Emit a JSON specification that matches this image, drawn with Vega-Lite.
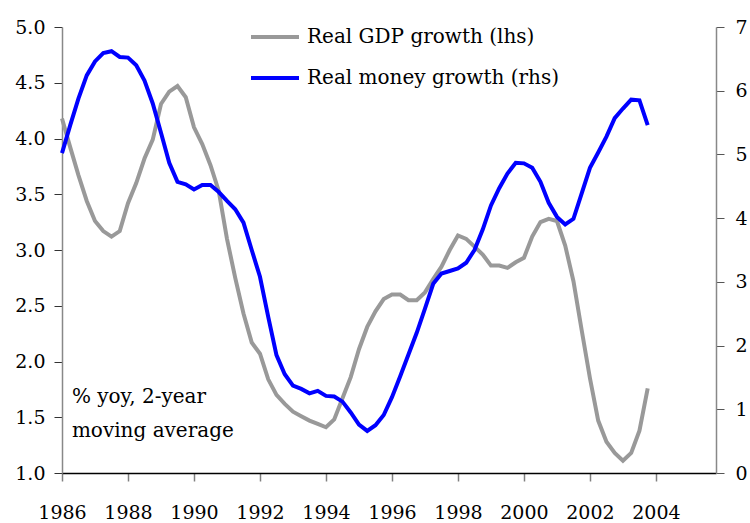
{
  "$schema": "https://vega.github.io/schema/vega-lite/v6.json",
  "width": 654,
  "height": 446,
  "autosize": {"type": "none"},
  "padding": {"left": 62, "top": 27, "right": 34, "bottom": 50},
  "config": {
    "view": {"stroke": null},
    "font": "DejaVu Serif",
    "axis": {"grid": false, "labelFont": "DejaVu Serif", "labelFontSize": 19, "labelColor": "#000000", "title": null, "tickSize": 8},
    "legend": {"labelFont": "DejaVu Serif"}
  },
  "data": {
    "values": [
      {"year": 1986.00, "gdp": 4.18, "money": 5.02},
      {"year": 1986.25, "gdp": 3.92, "money": 5.46},
      {"year": 1986.50, "gdp": 3.67, "money": 5.88},
      {"year": 1986.75, "gdp": 3.44, "money": 6.24},
      {"year": 1987.00, "gdp": 3.26, "money": 6.46},
      {"year": 1987.25, "gdp": 3.17, "money": 6.59},
      {"year": 1987.50, "gdp": 3.12, "money": 6.62},
      {"year": 1987.75, "gdp": 3.17, "money": 6.53},
      {"year": 1988.00, "gdp": 3.42, "money": 6.52},
      {"year": 1988.25, "gdp": 3.60, "money": 6.40},
      {"year": 1988.50, "gdp": 3.82, "money": 6.16},
      {"year": 1988.75, "gdp": 3.99, "money": 5.80},
      {"year": 1989.00, "gdp": 4.31, "money": 5.34},
      {"year": 1989.25, "gdp": 4.42, "money": 4.87},
      {"year": 1989.50, "gdp": 4.47, "money": 4.57},
      {"year": 1989.75, "gdp": 4.37, "money": 4.53},
      {"year": 1990.00, "gdp": 4.10, "money": 4.45},
      {"year": 1990.25, "gdp": 3.95, "money": 4.52},
      {"year": 1990.50, "gdp": 3.76, "money": 4.52},
      {"year": 1990.75, "gdp": 3.53, "money": 4.41},
      {"year": 1991.00, "gdp": 3.10, "money": 4.27},
      {"year": 1991.25, "gdp": 2.75, "money": 4.14},
      {"year": 1991.50, "gdp": 2.43, "money": 3.93},
      {"year": 1991.75, "gdp": 2.17, "money": 3.50},
      {"year": 1992.00, "gdp": 2.07, "money": 3.08},
      {"year": 1992.25, "gdp": 1.84, "money": 2.45},
      {"year": 1992.50, "gdp": 1.70, "money": 1.85},
      {"year": 1992.75, "gdp": 1.62, "money": 1.55},
      {"year": 1993.00, "gdp": 1.55, "money": 1.37},
      {"year": 1993.25, "gdp": 1.51, "money": 1.32},
      {"year": 1993.50, "gdp": 1.47, "money": 1.25},
      {"year": 1993.75, "gdp": 1.44, "money": 1.29},
      {"year": 1994.00, "gdp": 1.41, "money": 1.21},
      {"year": 1994.25, "gdp": 1.48, "money": 1.20},
      {"year": 1994.50, "gdp": 1.67, "money": 1.12},
      {"year": 1994.75, "gdp": 1.86, "money": 0.95},
      {"year": 1995.00, "gdp": 2.11, "money": 0.76},
      {"year": 1995.25, "gdp": 2.31, "money": 0.66},
      {"year": 1995.50, "gdp": 2.45, "money": 0.75},
      {"year": 1995.75, "gdp": 2.56, "money": 0.91},
      {"year": 1996.00, "gdp": 2.60, "money": 1.19},
      {"year": 1996.25, "gdp": 2.60, "money": 1.52},
      {"year": 1996.50, "gdp": 2.55, "money": 1.86},
      {"year": 1996.75, "gdp": 2.55, "money": 2.20},
      {"year": 1997.00, "gdp": 2.62, "money": 2.58},
      {"year": 1997.25, "gdp": 2.74, "money": 2.97},
      {"year": 1997.50, "gdp": 2.85, "money": 3.13},
      {"year": 1997.75, "gdp": 3.00, "money": 3.17},
      {"year": 1998.00, "gdp": 3.13, "money": 3.21},
      {"year": 1998.25, "gdp": 3.10, "money": 3.30},
      {"year": 1998.50, "gdp": 3.03, "money": 3.50},
      {"year": 1998.75, "gdp": 2.96, "money": 3.82},
      {"year": 1999.00, "gdp": 2.86, "money": 4.20},
      {"year": 1999.25, "gdp": 2.86, "money": 4.47},
      {"year": 1999.50, "gdp": 2.84, "money": 4.70},
      {"year": 1999.75, "gdp": 2.89, "money": 4.87},
      {"year": 2000.00, "gdp": 2.93, "money": 4.86},
      {"year": 2000.25, "gdp": 3.12, "money": 4.79},
      {"year": 2000.50, "gdp": 3.25, "money": 4.57},
      {"year": 2000.75, "gdp": 3.28, "money": 4.24},
      {"year": 2001.00, "gdp": 3.26, "money": 4.02},
      {"year": 2001.25, "gdp": 3.04, "money": 3.90},
      {"year": 2001.50, "gdp": 2.72, "money": 3.99},
      {"year": 2001.75, "gdp": 2.28, "money": 4.39},
      {"year": 2002.00, "gdp": 1.85, "money": 4.79},
      {"year": 2002.25, "gdp": 1.47, "money": 5.03},
      {"year": 2002.50, "gdp": 1.28, "money": 5.28},
      {"year": 2002.75, "gdp": 1.18, "money": 5.57},
      {"year": 2003.00, "gdp": 1.11, "money": 5.72},
      {"year": 2003.25, "gdp": 1.18, "money": 5.86},
      {"year": 2003.50, "gdp": 1.38, "money": 5.85},
      {"year": 2003.75, "gdp": 1.76, "money": 5.46}
    ]
  },
  "encoding": {
    "x": {
      "field": "year",
      "type": "quantitative",
      "scale": {"domain": [1986, 2005.82], "nice": false, "zero": false},
      "axis": {
        "orient": "bottom",
        "values": [1986, 1988, 1990, 1992, 1994, 1996, 1998, 2000, 2002, 2004],
        "format": "d",
        "domainColor": "#000000",
        "domainWidth": 1.5,
        "tickColor": "#808080",
        "tickWidth": 1.5,
        "labelPadding": 22,
        "labelFlush": false,
        "labelOverlap": false
      }
    }
  },
  "layer": [
    {
      "layer": [
        {
          "mark": {"type": "line", "strokeWidth": 4, "strokeJoin": "miter"},
          "encoding": {
            "y": {
              "field": "gdp",
              "type": "quantitative",
              "scale": {"domain": [1, 5], "nice": false, "zero": false},
              "axis": {
                "orient": "left",
                "values": [1, 1.5, 2, 2.5, 3, 3.5, 4, 4.5, 5],
                "format": ".1f",
                "domainColor": "#888888",
                "domainWidth": 1.5,
                "tickColor": "#333333",
                "tickWidth": 1,
                "labelPadding": 9
              }
            },
            "color": {
              "datum": "Real GDP growth (lhs)",
              "type": "nominal",
              "scale": {"domain": ["Real GDP growth (lhs)", "Real money growth (rhs)"], "range": ["#999999", "#0000ff"]},
              "legend": {
                "orient": "none",
                "legendX": 187,
                "legendY": -16,
                "title": null,
                "symbolType": "stroke",
                "symbolSize": 2304,
                "symbolStrokeWidth": 4,
                "labelFontSize": 20,
                "labelColor": "#000000",
                "labelOffset": 6,
                "labelLimit": 400,
                "rowPadding": 5,
                "padding": 0
              }
            }
          }
        },
        {
          "transform": [{"filter": "datum.year == 1986"}],
          "mark": {"type": "text", "text": ["% yoy, 2-year", "moving average"], "align": "left", "baseline": "middle", "fontSize": 20, "lineHeight": 34, "color": "#000000", "font": "DejaVu Serif"},
          "encoding": {
            "x": {"datum": 1986.3, "type": "quantitative"},
            "y": {"datum": 1.68, "type": "quantitative"}
          }
        }
      ]
    },
    {
      "mark": {"type": "line", "strokeWidth": 4, "strokeJoin": "miter"},
      "encoding": {
        "y": {
          "field": "money",
          "type": "quantitative",
          "scale": {"domain": [0, 7], "nice": false},
          "axis": {
            "orient": "right",
            "values": [0, 1, 2, 3, 4, 5, 6, 7],
            "format": "d",
            "domainColor": "#888888",
            "domainWidth": 1.5,
            "tickColor": "#555555",
            "tickWidth": 1,
            "labelPadding": 11
          }
        },
        "color": {"datum": "Real money growth (rhs)", "type": "nominal"}
      }
    }
  ],
  "resolve": {"scale": {"y": "independent"}, "axis": {"y": "independent"}}
}
